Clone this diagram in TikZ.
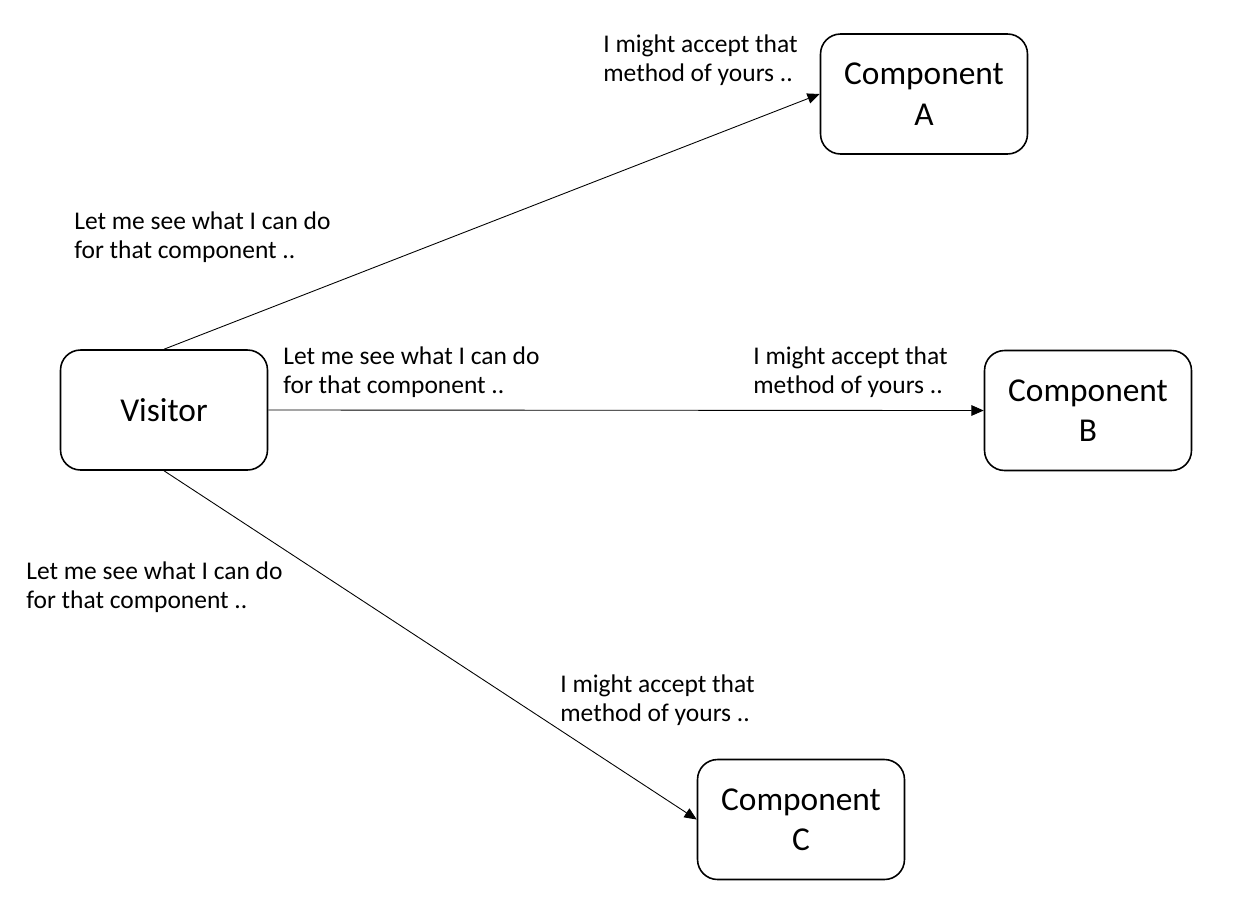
\documentclass[tikz,border=0pt]{standalone}
\usepackage{fontspec}
\setmainfont{Carlito}
\usetikzlibrary{arrows.meta}
\begin{document}
\begin{tikzpicture}[x=0.02cm,y=-0.02cm,
  box/.style={draw=black, line width=0.9pt, rounded corners=0.4cm, minimum width=4.14cm, minimum height=2.4cm, align=center, inner sep=0pt, font=\fontsize{19pt}{23pt}\selectfont},
  lbl/.style={anchor=north west, align=left, inner sep=0pt, font=\fontsize{14.5pt}{17pt}\selectfont},
  conn/.style={line width=0.5pt, -{Triangle[length=7pt,width=6pt]}}]
\useasboundingbox (0,0) rectangle (1250,910);
\node[box] (vis) at (164,410) {Visitor};
\node[box] (A) at (924,94) {Component\\A};
\node[box] (B) at (1088,410.5) {Component\\B};
\node[box] (C) at (801,819.5) {Component\\C};
\draw[conn] (vis.north) -- (A.west);
\draw[conn] (vis.east) -- (B.west);
\draw[conn] (vis.south) -- (C.west);
\node[lbl] (l1) at (74,211) {Let me see what I can do\\for that component ..};
\node[lbl] (r1) at (603,34) {I might accept that\\method of yours ..};
\node[lbl] (l2) at (283,346) {Let me see what I can do\\for that component ..};
\node[lbl] (r2) at (753,346) {I might accept that\\method of yours ..};
\node[lbl] (l3) at (26,561) {Let me see what I can do\\for that component ..};
\node[lbl] (r3) at (560,674) {I might accept that\\method of yours ..};
\end{tikzpicture}
\end{document}
